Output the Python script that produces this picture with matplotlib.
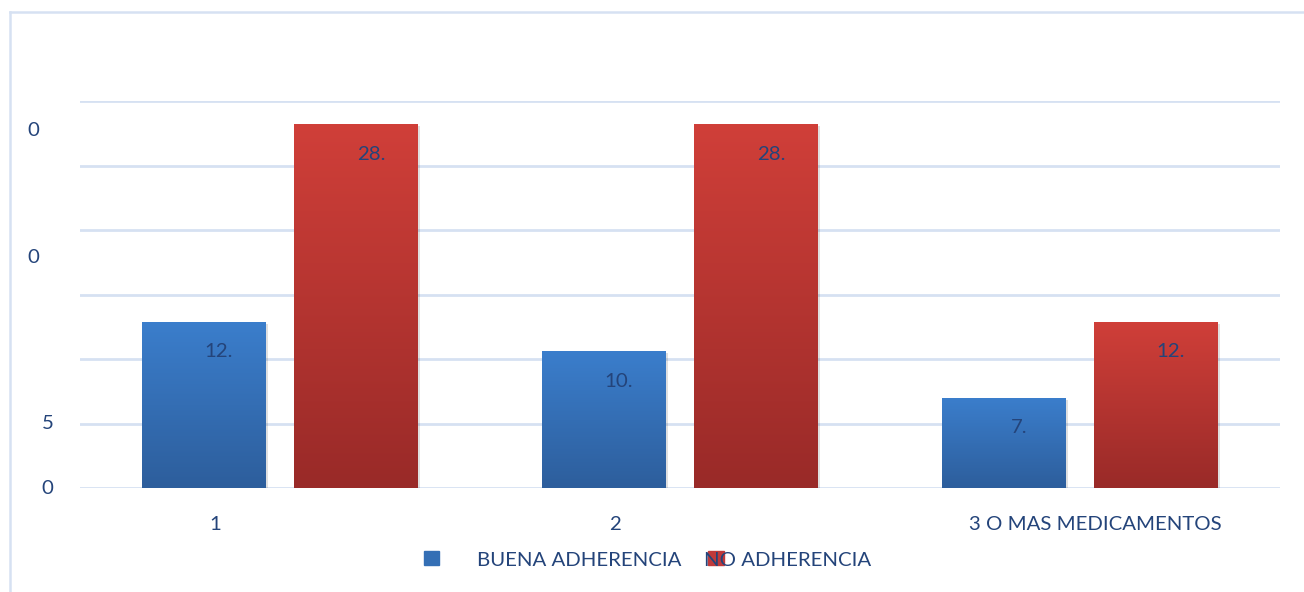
import numpy as np
import matplotlib
matplotlib.use("Agg")
import matplotlib.pyplot as plt
import matplotlib.transforms as mtransforms
from matplotlib.colors import LinearSegmentedColormap
from matplotlib.patches import Rectangle
from matplotlib.lines import Line2D

# datos
categorias = ["1", "2", "3 O MAS MEDICAMENTOS"]
series = ["BUENA ADHERENCIA", "NO ADHERENCIA"]
buena = [12.9, 10.6, 7.0]
no_adh = [28.2, 28.2, 12.9]
etiq_buena = ["12.", "10.", "7."]
etiq_no = ["28.", "28.", "12."]
ytick_pos = [27.75, 17.9, 5, 0]
ytick_lab = ["0", "0", "5", "0"]

plt.rcParams["font.family"] = ["Lato", "DejaVu Sans"]
texto = "#24447a"
grid_c = "#d6e1f2"
fs = 14.7
W, H = 1304, 592

fig = plt.figure(figsize=(W / 100, H / 100), dpi=100)
ax = fig.add_axes([80 / W, 1 - 488 / H, 1200 / W, 387 / H])

x = np.arange(len(categorias))
ancho = 0.31
b1 = ax.bar(x - 0.19, buena, ancho, color="#3a7dca", zorder=3)
b2 = ax.bar(x + 0.19, no_adh, ancho, color="#cf3e38", zorder=3)

cmap_b = LinearSegmentedColormap.from_list("b", ["#2d5e9c", "#3b7ecc"])
cmap_r = LinearSegmentedColormap.from_list("r", ["#992a28", "#d03f39"])
grad = np.linspace(0, 1, 256).reshape(-1, 1)
sombra = mtransforms.offset_copy(ax.transData, fig=fig, x=2, y=-2, units="dots")

for barras, cmap in [(b1, cmap_b), (b2, cmap_r)]:
    for b in barras:
        bx, by, bw, bh = b.get_x(), b.get_y(), b.get_width(), b.get_height()
        im = ax.imshow(grad, cmap=cmap, origin="lower", aspect="auto",
                       extent=(bx, bx + bw, by, by + bh), zorder=3.5)
        im.set_clip_path(b)
        ax.add_patch(Rectangle((bx, by), bw, bh, transform=sombra,
                               color="black", alpha=0.12, zorder=2.5, lw=0))

for barras, etiq in [(b1, etiq_buena), (b2, etiq_no)]:
    for b, t in zip(barras, etiq):
        ax.annotate(t, (b.get_x() + b.get_width() / 2, b.get_height()),
                    xytext=(15 * 0.72, -30 * 0.72), textcoords="offset points",
                    ha="center", va="center", fontsize=fs, color=texto, zorder=5)

ax.set_xlim(-0.5, 2.5)
ax.set_ylim(0, 30)
ax.set_yticks(np.arange(0, 31, 5))
ax.set_yticklabels([])
ax.grid(axis="y", color=grid_c, lw=2, zorder=0)
ax.set_xticks([-0.1625, 0.8375, 2.0375], categorias)
ax.tick_params(length=0, labelsize=fs, labelcolor=texto, pad=20.5)
for s in ax.spines.values():
    s.set_visible(False)

# etiquetas del eje y (como en el original)
tr = mtransforms.blended_transform_factory(ax.transAxes, ax.transData)
for i, (p, t) in enumerate(zip(ytick_pos, ytick_lab)):
    xx = (33 - 80) / 1200 if i < 2 else (47.5 - 80) / 1200
    ax.text(xx, p, t, transform=tr, ha="center", va="center",
            fontsize=fs, color=texto, clip_on=False)

# leyenda manual
fig.add_artist(Rectangle((424 / W, 1 - 565 / H), 15 / W, 14 / H,
                         transform=fig.transFigure, color="#346fb5"))
fig.add_artist(Rectangle((708 / W, 1 - 565 / H), 16 / W, 14 / H,
                         transform=fig.transFigure, color="#c0393a"))
fig.text(477 / W, 1 - 561 / H, series[0], va="center", ha="left",
         fontsize=fs, color=texto)
fig.text(704 / W, 1 - 561 / H, series[1], va="center", ha="left",
         fontsize=fs, color=texto)

# marco
fig.add_artist(Line2D([10 / W, 10 / W], [0, 1 - 12 / H], transform=fig.transFigure,
                      color=grid_c, lw=1.8))
fig.add_artist(Line2D([10 / W, 1], [1 - 12 / H, 1 - 12 / H], transform=fig.transFigure,
                      color=grid_c, lw=1.8))

fig.savefig("out.png", dpi=100)
